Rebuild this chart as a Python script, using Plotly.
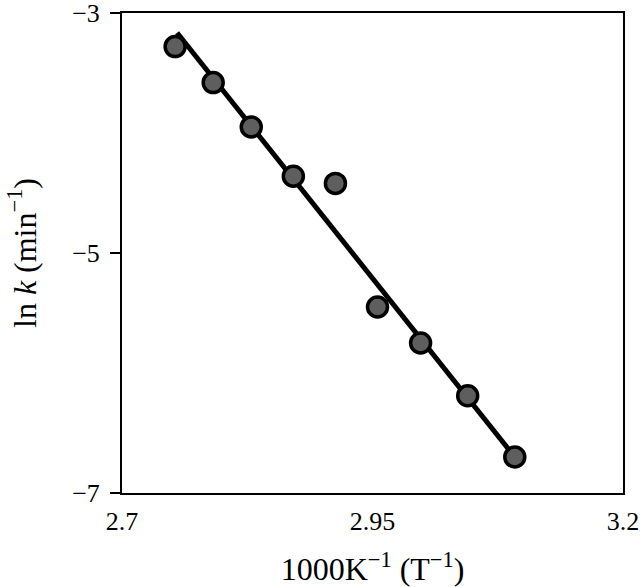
import plotly.graph_objects as go

# Data
inv_T = [2.753, 2.791, 2.829, 2.871, 2.913, 2.955, 2.998, 3.045, 3.092]
ln_k = [-3.28, -3.58, -3.95, -4.36, -4.42, -5.45, -5.75, -6.19, -6.70]

# fitted line endpoints
fit_x = [2.755, 3.092]
fit_y = [-3.165, -6.70]

x_ticks = [2.7, 2.95, 3.2]
x_tick_text = ["2.7", "2.95", "3.2"]
y_ticks = [-3, -5, -7]

font_family = "Liberation Serif, Times New Roman, serif"

fig = go.Figure()
fig.add_trace(go.Scatter(
    x=fit_x, y=fit_y, mode="lines",
    line=dict(color="black", width=5),
    showlegend=False, hoverinfo="skip"))
fig.add_trace(go.Scatter(
    x=inv_T, y=ln_k, mode="markers",
    marker=dict(size=20, color="#5e5e5e", line=dict(color="black", width=3.5)),
    showlegend=False))

fig.update_layout(
    width=640, height=587,
    margin=dict(l=122, r=17, t=13, b=94, autoexpand=False),
    plot_bgcolor="white", paper_bgcolor="white",
    font=dict(family=font_family, color="black", size=26),
)
fig.update_xaxes(
    range=[2.7, 3.2], tickvals=x_ticks, ticktext=x_tick_text,
    showgrid=False, zeroline=False, automargin=False,
    showline=True, linecolor="black", linewidth=2, mirror=True,
    ticks="", ticklabelstandoff=4, ticklabeloverflow="allow",
    tickfont=dict(size=26, family=font_family),
    title=dict(text="1000K<sup>−1</sup> (T<sup>−1</sup>)",
               font=dict(size=32, family=font_family), standoff=27),
)
fig.update_yaxes(
    range=[-7, -3], tickvals=y_ticks,
    showgrid=False, zeroline=False, automargin=False,
    showline=True, linecolor="black", linewidth=2, mirror=True,
    ticks="outside", ticklen=10, tickwidth=1.5, tickcolor="black",
    ticklabelstandoff=5, ticklabeloverflow="allow",
    tickfont=dict(size=26, family=font_family),
    title=dict(text="ln <i>k</i> (min<sup>−1</sup>)",
               font=dict(size=32, family=font_family), standoff=26),
)

fig.write_html("out.html",
               config={"displayModeBar": False},
               post_script="document.body.style.margin='0';")
